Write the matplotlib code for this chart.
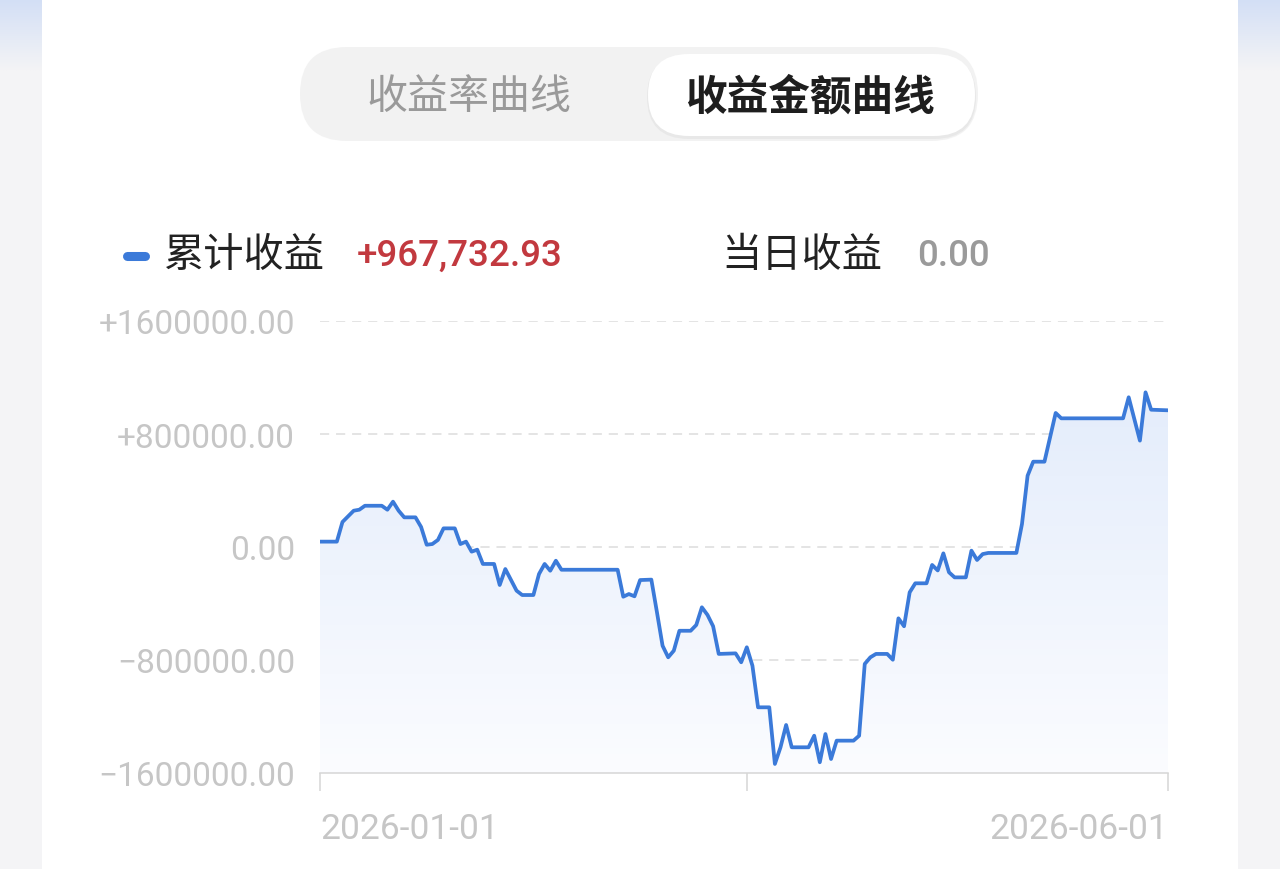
import numpy as np
import matplotlib
matplotlib.use("Agg")
from matplotlib import pyplot as plt
from matplotlib.patches import FancyBboxPatch, Rectangle
from matplotlib.colors import LinearSegmentedColormap

# cumulative profit curve, day offset from 2026-01-01 and value in yuan
days = [0, 3, 4, 6, 7, 8, 11, 12, 13, 14, 15, 17, 18, 19, 20, 21, 22, 24, 25, 26,
        27, 28, 29, 31, 32, 33, 35, 36, 38, 39, 40, 41, 42, 43, 53, 54, 55, 56, 57, 59,
        60, 61, 62, 63, 64, 66, 67, 68, 69, 70, 71, 74, 75, 76, 77, 78, 80, 81, 82, 83,
        84, 87, 88, 89, 90, 91, 92, 95, 96, 97, 98, 99, 101, 102, 103, 104, 105, 106, 108, 109,
        110, 111, 112, 113, 115, 116, 117, 118, 119, 124, 125, 126, 127, 129, 131, 132, 143, 144, 146, 147,
        148, 151]
profit = [38e3, 38e3, 177e3, 257e3, 264e3, 292e3, 292e3, 264e3, 321e3, 257e3,
          210e3, 210e3, 142e3, 16e3, 21e3, 50e3, 132e3, 132e3, 21e3, 38e3,
          -33e3, -19e3, -120e3, -120e3, -269e3, -156e3, -309e3, -340e3, -340e3, -191e3,
          -120e3, -168e3, -97e3, -161e3, -161e3, -352e3, -333e3, -349e3, -234e3, -231e3,
          -462e3, -699e3, -781e3, -734e3, -593e3, -593e3, -552e3, -427e3, -481e3, -561e3,
          -757e3, -753e3, -816e3, -710e3, -840e3, -1135e3, -1135e3, -1536e3, -1418e3, -1260e3,
          -1418e3, -1418e3, -1336e3, -1524e3, -1324e3, -1501e3, -1371e3, -1371e3, -1336e3, -828e3,
          -781e3, -757e3, -757e3, -798e3, -505e3, -561e3, -321e3, -257e3, -257e3, -127e3,
          -166e3, -45e3, -179e3, -215e3, -215e3, -26e3, -92e3, -50e3, -42e3, -42e3,
          163e3, 505e3, 604e3, 604e3, 949e3, 911e3, 911e3, 1060e3, 753e3, 1095e3,
          972e3, 967732.93]

y_ticks = [-1600000, -800000, 0, 800000, 1600000]
y_labels = ["\u22121600000.00", "\u2212800000.00", "0.00", "+800000.00", "+1600000.00"]
x_ticks = [0, 76, 151]
x_labels = ["2026-01-01", "", "2026-06-01"]

tabs = ["收益率曲线", "收益金额曲线"]
legend_name = "累计收益"
legend_value = "+967,732.93"
today_name = "当日收益"
today_value = "0.00"

cjk = ["Noto Sans CJK SC", "DejaVu Sans"]
num = ["Roboto", "DejaVu Sans"]
blue = "#3b7ad9"

W, H = 1280, 870
fig = plt.figure(figsize=(W / 100, H / 100), dpi=100)
fig.patch.set_facecolor("#f4f4f6")

# background layer in pixel coords
bg = fig.add_axes([0, 0, 1, 1], zorder=-2)
bg.axis("off")
bg.patch.set_alpha(0)

side_grad = LinearSegmentedColormap.from_list("side", ["#d3dff5", "#f4f4f6"])
g = np.linspace(0, 1, 64).reshape(-1, 1)
bg.imshow(g, cmap=side_grad, extent=[0, 42, 72, 0], aspect="auto", zorder=0)
bg.imshow(g, cmap=side_grad, extent=[1238, W, 72, 0], aspect="auto", zorder=0)
bg.set_xlim(0, W)
bg.set_ylim(H, 0)
bg.add_patch(Rectangle((42, 0), 1196, H, facecolor="white", edgecolor="none", zorder=1))

# toggle pill (anchored on the centre line, pad = half height)
bg.add_patch(FancyBboxPatch((300 + 47, 95), 678 - 94, 0, boxstyle="round,pad=47",
                            facecolor="#f2f2f2", edgecolor="none", zorder=2))
bg.add_patch(FancyBboxPatch((648 + 41, 98), 327 - 82, 0, boxstyle="round,pad=42",
                            facecolor="#e2e2e2", edgecolor="none", alpha=0.6, zorder=2))
bg.add_patch(FancyBboxPatch((648 + 41, 96), 327 - 82, 0, boxstyle="round,pad=41",
                            facecolor="white", edgecolor="none", zorder=3))
bg.text(469, 97, tabs[0], family=cjk, fontsize=29.5, color="#9a9a9a",
        ha="center", va="center", zorder=4)
bg.text(810, 97, tabs[1], family=cjk, fontsize=30, color="#1e1e1e", weight="bold",
        ha="center", va="center", zorder=4)

# legend row
bg.plot([127, 145], [257, 257], color=blue, lw=6.5, solid_capstyle="round", zorder=4)
bg.text(164, 256, legend_name, family=cjk, fontsize=29, color="#222222", weight="medium",
        ha="left", va="center", zorder=4)
bg.text(357, 256, legend_value, family=num, fontsize=26.5, color="#c2393f", weight="medium",
        ha="left", va="center", zorder=4)
bg.text(721, 256, today_name, family=cjk, fontsize=29, color="#222222", weight="medium",
        ha="left", va="center", zorder=4)
bg.text(917, 256, today_value, family=num, fontsize=26.5, color="#9a9a9a", weight="medium",
        ha="left", va="center", zorder=4)

# chart
ax = fig.add_axes([320 / W, 1 - 774 / H, 848 / W, 452 / H])
ax.patch.set_alpha(0)

ax.plot(days, profit, color=blue, lw=2.7, zorder=3)
poly = ax.fill_between(days, profit, -1600000, color="none", lw=0)
fill_grad = LinearSegmentedColormap.from_list("fill", ["#fbfcff", "#e3ecfb"])
im = ax.imshow(np.linspace(0, 1, 128).reshape(-1, 1), cmap=fill_grad, origin="lower",
               extent=[0, 151, -1600000, 1200000], aspect="auto", zorder=1)
im.set_clip_path(poly.get_paths()[0], transform=ax.transData)
ax.set_xlim(0, 151)
ax.set_ylim(-1600000, 1600000)

for v in y_ticks[1:]:
    ax.axhline(v, color="#dcdcdc", lw=1.1, dashes=(6, 4.5), zorder=0)

for s in ["top", "right", "left"]:
    ax.spines[s].set_visible(False)
ax.spines["bottom"].set_color("#d6d6d6")
ax.spines["bottom"].set_linewidth(1.1)

ax.set_yticks(y_ticks)
ax.set_yticklabels(y_labels, family=num, fontsize=24, color="#c6c6c6")
ax.tick_params(axis="y", length=0, pad=18)

ax.set_xticks(x_ticks)
ax.set_xticklabels(x_labels, family=num, fontsize=25.5, color="#c6c6c6")
ax.tick_params(axis="x", length=13, width=1.1, color="#d6d6d6", pad=15)
xl = ax.get_xticklabels()
xl[0].set_ha("left")
xl[-1].set_ha("right")

fig.savefig("out.png", dpi=100, facecolor=fig.get_facecolor())
